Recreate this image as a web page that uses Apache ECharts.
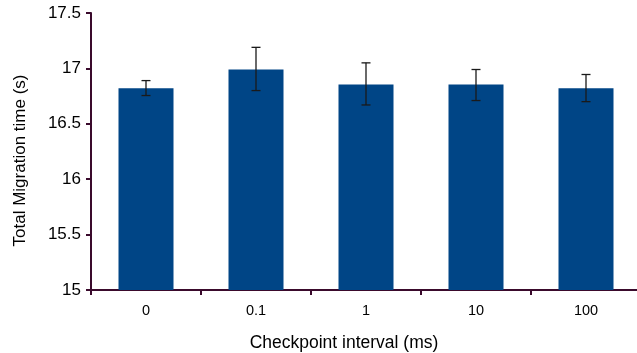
<!DOCTYPE html>
<html><head><meta charset="utf-8">
<script src="https://cdn.jsdelivr.net/npm/echarts@6/dist/echarts.min.js"></script>
<style>html,body{margin:0;padding:0;background:#fff}#c{width:637px;height:353px}</style>
</head><body><div id="c"></div>
<script>
const categories = ['0', '0.1', '1', '10', '100'];
const means = [16.82, 16.99, 16.855, 16.855, 16.82];
const errLow = [16.755, 16.80, 16.67, 16.71, 16.70];
const errHigh = [16.89, 17.19, 17.05, 16.99, 16.945];
const yTicks = [15, 15.5, 16, 16.5, 17, 17.5];

const axisColor = '#3a0a2c';
const chart = echarts.init(document.getElementById('c'));
chart.setOption({
  animation: false,
  textStyle: { fontFamily: 'Liberation Sans' },
  grid: { left: 91, right: -4, top: 13, bottom: 63, outerBoundsMode: 'none', containLabel: false },
  xAxis: {
    type: 'category', data: categories,
    name: 'Checkpoint interval (ms)', nameLocation: 'middle', nameGap: 44,
    nameTextStyle: { fontSize: 17.5, color: '#000', fontFamily: 'Liberation Sans', padding: [0, 44, 0, 0] },
    axisLine: { lineStyle: { color: axisColor, width: 2 } },
    axisTick: { show: true, length: 5, lineStyle: { color: axisColor, width: 2 } },
    axisLabel: { fontSize: 14.5, color: '#000', margin: 13 }
  },
  yAxis: {
    type: 'value', min: 15, max: 17.5, interval: 0.5,
    name: 'Total Migration time (s)', nameLocation: 'middle', nameGap: 62,
    nameTextStyle: { fontSize: 17, color: '#000', fontFamily: 'Liberation Sans', padding: [0, 18, 0, 0] },
    axisLine: { show: true, lineStyle: { color: axisColor, width: 2 } },
    axisTick: { show: true, length: 5, lineStyle: { color: axisColor, width: 2 } },
    axisLabel: { fontSize: 17, color: '#000', margin: 10,
      formatter: v => (yTicks.indexOf(v) >= 0 ? String(v) : '') },
    splitLine: { show: false }
  },
  series: [
    { type: 'bar', data: means, barWidth: '50%', itemStyle: { color: '#004586' } },
    {
      type: 'custom',
      data: categories.map((c, i) => [i, errLow[i], errHigh[i]]),
      z: 10,
      renderItem: function (params, api) {
        const x = api.value(0);
        const lo = api.coord([x, api.value(1)]);
        const hi = api.coord([x, api.value(2)]);
        const hw = 4.5;
        const style = { stroke: '#1a1a1a', lineWidth: 1.3 };
        return { type: 'group', children: [
          { type: 'line', shape: { x1: lo[0], y1: lo[1], x2: hi[0], y2: hi[1] }, style },
          { type: 'line', shape: { x1: lo[0] - hw, y1: lo[1], x2: lo[0] + hw, y2: lo[1] }, style },
          { type: 'line', shape: { x1: hi[0] - hw, y1: hi[1], x2: hi[0] + hw, y2: hi[1] }, style }
        ]};
      }
    }
  ]
});
</script></body></html>
